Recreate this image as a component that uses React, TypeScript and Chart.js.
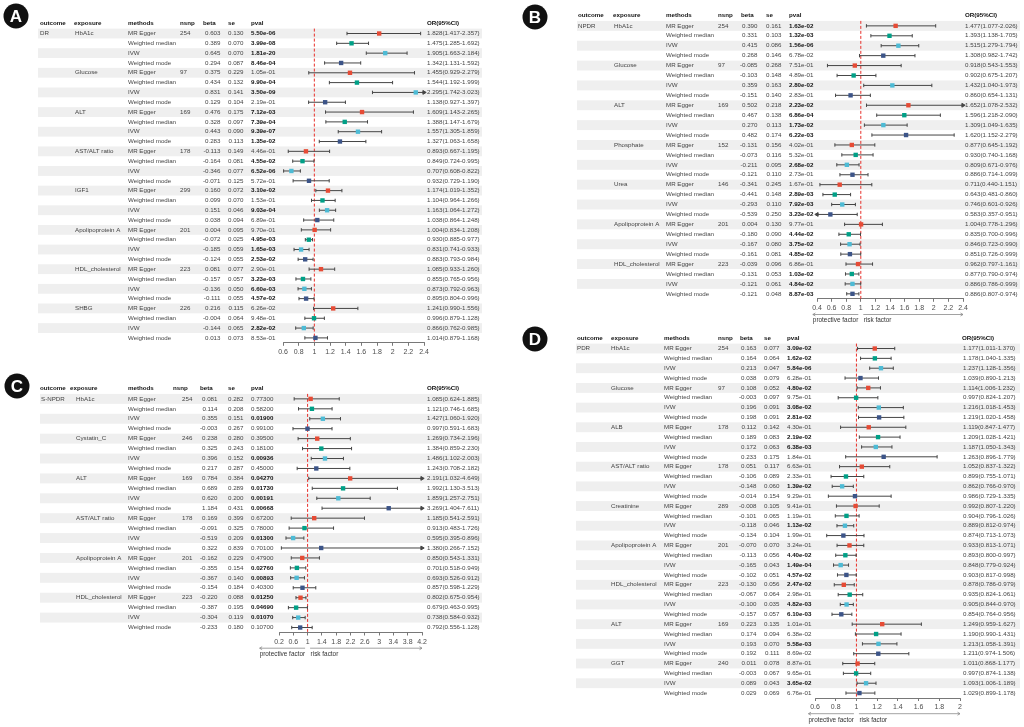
import React, { useEffect, useRef } from "react";
import { Chart, registerables } from "chart.js";
Chart.register(...registerables);

const FONT = '"Liberation Sans", Arial, Helvetica, sans-serif';
const METHODS = ["MR Egger", "Weighted median", "IVW", "Weighted mode"];
const METHOD_COLORS = ["#E64B35", "#00A087", "#4DBBD5", "#3C5488"];
const HEADERS = ["outcome", "exposure", "methods", "nsnp", "beta", "se", "pval", "OR(95%CI)"];

// ---------- Panel A : DR ----------
const A_OUTCOME = "DR";
const A_EXPOSURES = ["HbA1c", "Glucose", "ALT", "AST/ALT ratio", "IGF1", "Apolipoprotein A", "HDL_cholesterol", "SHBG"];
const A_NSNP = [254, 97, 169, 178, 299, 201, 223, 226];
const A_BETA = [0.603, 0.389, 0.645, 0.294, 0.375, 0.434, 0.831, 0.129, 0.476, 0.328, 0.443, 0.283, -0.113, -0.164, -0.346, -0.071, 0.160, 0.099, 0.151, 0.038, 0.004, -0.072, -0.185, -0.124, 0.081, -0.157, -0.136, -0.111, 0.216, -0.004, -0.144, 0.013];
const A_SE = [0.130, 0.070, 0.070, 0.087, 0.229, 0.132, 0.141, 0.104, 0.175, 0.097, 0.090, 0.113, 0.149, 0.081, 0.077, 0.125, 0.072, 0.070, 0.046, 0.094, 0.095, 0.025, 0.059, 0.055, 0.077, 0.057, 0.050, 0.055, 0.115, 0.064, 0.065, 0.073];
const A_PVAL = ["5.50e-06", "3.99e-08", "1.81e-20", "8.46e-04", "1.05e-01", "9.90e-04", "3.50e-09", "2.19e-01", "7.12e-03", "7.39e-04", "9.39e-07", "1.35e-02", "4.46e-01", "4.55e-02", "6.52e-06", "5.72e-01", "3.10e-02", "1.53e-01", "9.03e-04", "6.89e-01", "9.70e-01", "4.95e-03", "1.65e-03", "2.53e-02", "2.90e-01", "3.23e-03", "6.60e-03", "4.57e-02", "6.26e-02", "9.48e-01", "2.82e-02", "8.53e-01"];
const A_OR = [1.828, 1.475, 1.905, 1.342, 1.455, 1.544, 2.295, 1.138, 1.609, 1.388, 1.557, 1.327, 0.893, 0.849, 0.707, 0.932, 1.174, 1.104, 1.163, 1.038, 1.004, 0.930, 0.831, 0.883, 1.085, 0.855, 0.873, 0.895, 1.241, 0.996, 0.866, 1.014];
const A_LO = [1.417, 1.285, 1.663, 1.131, 0.929, 1.192, 1.742, 0.927, 1.143, 1.147, 1.305, 1.063, 0.667, 0.724, 0.608, 0.729, 1.019, 0.964, 1.064, 0.864, 0.834, 0.885, 0.741, 0.793, 0.933, 0.765, 0.792, 0.804, 0.990, 0.879, 0.762, 0.879];
const A_HI = [2.357, 1.692, 2.184, 1.592, 2.279, 1.999, 3.023, 1.397, 2.265, 1.679, 1.859, 1.658, 1.195, 0.995, 0.822, 1.190, 1.352, 1.266, 1.272, 1.248, 1.208, 0.977, 0.933, 0.984, 1.260, 0.956, 0.963, 0.996, 1.556, 1.128, 0.985, 1.168];
const A_TICKS = [0.6, 0.8, 1, 1.2, 1.4, 1.6, 1.8, 2, 2.2, 2.4];

// ---------- Panel B : NPDR ----------
const B_OUTCOME = "NPDR";
const B_EXPOSURES = ["HbA1c", "Glucose", "ALT", "Phosphate", "Urea", "Apolipoprotein A", "HDL_cholesterol"];
const B_NSNP = [254, 97, 169, 152, 146, 201, 223];
const B_BETA = [0.390, 0.331, 0.415, 0.268, -0.085, -0.103, 0.359, -0.151, 0.502, 0.467, 0.270, 0.482, -0.131, -0.073, -0.211, -0.121, -0.341, -0.441, -0.293, -0.539, 0.004, -0.180, -0.167, -0.161, -0.039, -0.131, -0.121, -0.121];
const B_SE = [0.161, 0.103, 0.086, 0.146, 0.268, 0.148, 0.163, 0.140, 0.218, 0.138, 0.113, 0.174, 0.156, 0.116, 0.095, 0.110, 0.245, 0.148, 0.110, 0.250, 0.130, 0.090, 0.080, 0.081, 0.096, 0.053, 0.061, 0.048];
const B_PVAL = ["1.63e-02", "1.32e-03", "1.56e-06", "6.78e-02", "7.51e-01", "4.89e-01", "2.80e-02", "2.83e-01", "2.23e-02", "6.86e-04", "1.73e-02", "6.22e-03", "4.02e-01", "5.32e-01", "2.68e-02", "2.73e-01", "1.67e-01", "2.89e-03", "7.92e-03", "3.23e-02", "9.77e-01", "4.44e-02", "3.75e-02", "4.85e-02", "6.86e-01", "1.03e-02", "4.84e-02", "8.87e-03"];
const B_OR = [1.477, 1.393, 1.515, 1.308, 0.918, 0.902, 1.432, 0.860, 1.652, 1.596, 1.309, 1.620, 0.877, 0.930, 0.809, 0.886, 0.711, 0.643, 0.746, 0.583, 1.004, 0.835, 0.846, 0.851, 0.962, 0.877, 0.886, 0.886];
const B_LO = [1.077, 1.138, 1.279, 0.982, 0.543, 0.675, 1.040, 0.654, 1.078, 1.218, 1.049, 1.152, 0.645, 0.740, 0.671, 0.714, 0.440, 0.481, 0.601, 0.357, 0.778, 0.700, 0.723, 0.726, 0.797, 0.790, 0.786, 0.807];
const B_HI = [2.026, 1.705, 1.794, 1.742, 1.553, 1.207, 1.973, 1.131, 2.532, 2.090, 1.635, 2.279, 1.192, 1.168, 0.976, 1.099, 1.151, 0.860, 0.926, 0.951, 1.296, 0.996, 0.990, 0.999, 1.161, 0.974, 0.999, 0.974];
const B_TICKS = [0.4, 0.6, 0.8, 1, 1.2, 1.4, 1.6, 1.8, 2, 2.2, 2.4];

// ---------- Panel C : S-NPDR ----------
const C_OUTCOME = "S-NPDR";
const C_EXPOSURES = ["HbA1c", "Cystatin_C", "ALT", "AST/ALT ratio", "Apolipoprotein A", "HDL_cholesterol"];
const C_NSNP = [254, 246, 169, 178, 201, 223];
const C_BETA = [0.081, 0.114, 0.355, -0.003, 0.238, 0.325, 0.396, 0.217, 0.784, 0.689, 0.620, 1.184, 0.169, -0.091, -0.519, 0.322, -0.162, -0.355, -0.367, -0.154, -0.220, -0.387, -0.304, -0.233];
const C_SE = [0.282, 0.208, 0.151, 0.267, 0.280, 0.243, 0.152, 0.287, 0.384, 0.289, 0.200, 0.431, 0.399, 0.325, 0.209, 0.839, 0.229, 0.154, 0.140, 0.184, 0.088, 0.195, 0.119, 0.180];
const C_PVAL = ["0.77300", "0.58200", "0.01900", "0.99100", "0.39500", "0.18100", "0.00936", "0.45000", "0.04270", "0.01730", "0.00191", "0.00668", "0.67200", "0.78000", "0.01300", "0.70100", "0.47900", "0.02760", "0.00893", "0.40300", "0.01250", "0.04690", "0.01070", "0.10700"];
const C_OR = [1.085, 1.121, 1.427, 0.997, 1.269, 1.384, 1.486, 1.243, 2.191, 1.992, 1.859, 3.269, 1.185, 0.913, 0.595, 1.380, 0.850, 0.701, 0.693, 0.857, 0.802, 0.679, 0.738, 0.792];
const C_LO = [0.624, 0.746, 1.060, 0.591, 0.734, 0.859, 1.102, 0.708, 1.032, 1.130, 1.257, 1.404, 0.541, 0.483, 0.395, 0.266, 0.543, 0.518, 0.526, 0.598, 0.675, 0.463, 0.584, 0.556];
const C_HI = [1.885, 1.685, 1.920, 1.683, 2.196, 2.230, 2.003, 2.182, 4.649, 3.513, 2.751, 7.611, 2.591, 1.726, 0.896, 7.152, 1.331, 0.949, 0.912, 1.229, 0.954, 0.995, 0.932, 1.128];
const C_TICKS = [0.2, 0.6, 1, 1.4, 1.8, 2.2, 2.6, 3, 3.4, 3.8, 4.2];

// ---------- Panel D : PDR ----------
const D_OUTCOME = "PDR";
const D_EXPOSURES = ["HbA1c", "Glucose", "ALB", "AST/ALT ratio", "Creatinine", "Apolipoprotein A", "HDL_cholesterol", "ALT", "GGT"];
const D_NSNP = [254, 97, 178, 178, 289, 201, 223, 169, 240];
const D_BETA = [0.163, 0.164, 0.213, 0.038, 0.108, -0.003, 0.196, 0.198, 0.112, 0.189, 0.172, 0.233, 0.051, -0.106, -0.148, -0.014, -0.008, -0.101, -0.118, -0.134, -0.070, -0.113, -0.165, -0.102, -0.130, -0.067, -0.100, -0.157, 0.223, 0.174, 0.193, 0.192, 0.011, -0.003, 0.089, 0.029];
const D_SE = [0.077, 0.064, 0.047, 0.079, 0.052, 0.097, 0.091, 0.091, 0.142, 0.083, 0.063, 0.175, 0.117, 0.089, 0.060, 0.154, 0.105, 0.065, 0.046, 0.104, 0.070, 0.056, 0.043, 0.051, 0.056, 0.064, 0.035, 0.057, 0.135, 0.094, 0.070, 0.111, 0.078, 0.067, 0.043, 0.069];
const D_PVAL = ["3.09e-02", "1.62e-02", "5.84e-06", "6.28e-01", "4.80e-02", "9.75e-01", "3.08e-02", "2.81e-02", "4.30e-01", "2.19e-02", "6.38e-03", "1.84e-01", "6.63e-01", "2.33e-01", "1.39e-02", "9.29e-01", "9.41e-01", "1.19e-01", "1.13e-02", "1.99e-01", "3.24e-01", "4.40e-02", "1.49e-04", "4.57e-02", "2.47e-02", "2.98e-01", "4.82e-03", "6.10e-03", "1.01e-01", "6.38e-02", "5.58e-03", "8.69e-02", "8.87e-01", "9.65e-01", "3.65e-02", "6.76e-01"];
const D_OR = [1.177, 1.178, 1.237, 1.039, 1.114, 0.997, 1.216, 1.219, 1.119, 1.209, 1.187, 1.263, 1.052, 0.899, 0.862, 0.986, 0.992, 0.904, 0.889, 0.874, 0.933, 0.893, 0.848, 0.903, 0.878, 0.935, 0.905, 0.854, 1.249, 1.190, 1.213, 1.211, 1.011, 0.997, 1.093, 1.029];
const D_LO = [1.011, 1.040, 1.128, 0.890, 1.006, 0.824, 1.018, 1.020, 0.847, 1.028, 1.050, 0.896, 0.837, 0.755, 0.766, 0.729, 0.807, 0.796, 0.812, 0.713, 0.813, 0.800, 0.779, 0.817, 0.786, 0.824, 0.844, 0.764, 0.959, 0.990, 1.058, 0.974, 0.868, 0.874, 1.006, 0.899];
const D_HI = [1.370, 1.335, 1.356, 1.213, 1.232, 1.207, 1.453, 1.458, 1.477, 1.421, 1.343, 1.779, 1.322, 1.071, 0.970, 1.335, 1.220, 1.026, 0.974, 1.073, 1.071, 0.997, 0.924, 0.998, 0.979, 1.061, 0.970, 0.956, 1.627, 1.431, 1.391, 1.506, 1.177, 1.138, 1.189, 1.178];
const D_TICKS = [0.6, 0.8, 1, 1.2, 1.4, 1.6, 1.8, 2];

// ---------- layout (absolute page coords) ----------
const AXIS_H = 14;
const PANELS = [
  {
    key: "A", label: "A", outcome: A_OUTCOME, exposures: A_EXPOSURES, nsnp: A_NSNP, beta: A_BETA, se: A_SE, pval: A_PVAL, or: A_OR, lo: A_LO, hi: A_HI, ticks: A_TICKS,
    box: { left: 0, top: 0, w: 505, h: 365 },
    area: { top: 28.6, bottom: 342.8, left: 283, right: 424 },
    cols: { outcome: [40, 40], exposure: [74, 75], methods: [128, 128], nsnp: [180, 180], beta: [203, 205], se: [228, 228], pval: [251, 251], or: [427, 427] },
    shade: [38, 482], badge: [16, 16], arrows: false,
  },
  {
    key: "B", label: "B", outcome: B_OUTCOME, exposures: B_EXPOSURES, nsnp: B_NSNP, beta: B_BETA, se: B_SE, pval: B_PVAL, or: B_OR, lo: B_LO, hi: B_HI, ticks: B_TICKS,
    box: { left: 510, top: 0, w: 514, h: 335 },
    area: { top: 20.9, bottom: 298.8, left: 817, right: 963 },
    cols: { outcome: [578, 578], exposure: [613, 614], methods: [666, 666], nsnp: [718, 718], beta: [741, 742], se: [766, 766], pval: [789, 789], or: [965, 965] },
    shade: [577, 1020], badge: [535, 17], arrows: true,
  },
  {
    key: "C", label: "C", outcome: C_OUTCOME, exposures: C_EXPOSURES, nsnp: C_NSNP, beta: C_BETA, se: C_SE, pval: C_PVAL, or: C_OR, lo: C_LO, hi: C_HI, ticks: C_TICKS,
    box: { left: 0, top: 365, w: 505, h: 362 },
    area: { top: 393.9, bottom: 632.5, left: 279, right: 422 },
    cols: { outcome: [40, 41], exposure: [70, 76], methods: [128, 128], nsnp: [173, 182], beta: [200, 202], se: [228, 228], pval: [251, 251], or: [427, 427] },
    shade: [40, 482], badge: [17, 386], arrows: true,
  },
  {
    key: "D", label: "D", outcome: D_OUTCOME, exposures: D_EXPOSURES, nsnp: D_NSNP, beta: D_BETA, se: D_SE, pval: D_PVAL, or: D_OR, lo: D_LO, hi: D_HI, ticks: D_TICKS,
    box: { left: 510, top: 320, w: 514, h: 407 },
    area: { top: 343.6, bottom: 698, left: 815, right: 960 },
    cols: { outcome: [577, 577], exposure: [611, 611], methods: [664, 664], nsnp: [718, 718], beta: [740, 741], se: [764, 764], pval: [787, 787], or: [962, 963] },
    shade: [576, 1020], badge: [535, 339], arrows: true,
  },
];

const fmtTick = (v: number) => String(+v.toFixed(1));

function buildConfig(p: any) {
  const n = p.beta.length;
  const xmin = p.ticks[0];
  const xmax = p.ticks[p.ticks.length - 1];
  const L = p.box.left, T = p.box.top;
  const rx = (x: number) => x - L;

  const pointSets = METHODS.map((m, mi) => ({
    type: "scatter",
    label: m,
    data: p.or.map((v: number, i: number) => ({ x: v, y: i })).filter((_: any, i: number) => i % 4 === mi),
    pointStyle: "rect",
    pointRadius: 3.1,
    pointBackgroundColor: METHOD_COLORS[mi],
    pointBorderColor: METHOD_COLORS[mi],
    pointBorderWidth: 0,
    clip: false,
    order: 0,
  }));

  const ciSets = p.or.map((_: number, i: number) => {
    const la = p.lo[i] < xmin;
    const ra = p.hi[i] > xmax;
    return {
      type: "line",
      data: [
        { x: Math.max(p.lo[i], xmin), y: i },
        { x: Math.min(p.hi[i], xmax), y: i },
      ],
      borderColor: "#454545",
      borderWidth: 1,
      fill: false,
      pointStyle: [la ? "triangle" : "line", ra ? "triangle" : "line"],
      rotation: [la ? -90 : 90, 90],
      pointRadius: [la ? 2.2 : 1.7, ra ? 2.2 : 1.7],
      pointBorderColor: "#454545",
      pointBackgroundColor: "#454545",
      pointBorderWidth: 1,
      clip: false,
      order: 1,
    };
  });

  const refSet = {
    type: "line",
    data: [
      { x: 1, y: -0.5 },
      { x: 1, y: n - 0.5 },
    ],
    borderColor: "#E8302A",
    borderWidth: 1,
    borderDash: [3, 2],
    pointRadius: 0,
    fill: false,
    clip: false,
    order: 2,
  };

  const plugin = {
    id: "forestTable" + p.key,
    beforeDraw(chart: any) {
      const ctx = chart.ctx;
      const y = chart.scales.y;
      ctx.save();
      ctx.fillStyle = "#efefef";
      for (let i = 0; i < n; i += 2) {
        const t = y.getPixelForValue(i - 0.5);
        const b = y.getPixelForValue(i + 0.5);
        ctx.fillRect(rx(p.shade[0]), t, p.shade[1] - p.shade[0], b - t);
      }
      ctx.restore();
    },
    afterDraw(chart: any) {
      const ctx = chart.ctx;
      const y = chart.scales.y;
      const x = chart.scales.x;
      const c = p.cols;
      ctx.save();
      ctx.textBaseline = "middle";
      // badge
      ctx.fillStyle = "#111";
      ctx.beginPath();
      ctx.arc(rx(p.badge[0]), p.badge[1] - T, 12.5, 0, Math.PI * 2);
      ctx.fill();
      ctx.fillStyle = "#fff";
      ctx.font = `bold 17px ${FONT}`;
      ctx.textAlign = "center";
      ctx.fillText(p.label, rx(p.badge[0]), p.badge[1] - T + 1);

      // header
      ctx.textAlign = "left";
      ctx.fillStyle = "#111";
      ctx.font = `bold 6.2px ${FONT}`;
      const hy = y.getPixelForValue(-1) - 0.5;
      const hx = [c.outcome[0], c.exposure[0], c.methods[0], c.nsnp[0], c.beta[0], c.se[0], c.pval[0], c.or[0]];
      HEADERS.forEach((h, k) => ctx.fillText(h, rx(hx[k]), hy));

      // rows
      const body = `6.2px ${FONT}`;
      ctx.font = body;
      const numW = ctx.measureText("0.000").width;
      for (let i = 0; i < n; i++) {
        const g = Math.floor(i / 4);
        const m = i % 4;
        const yy = y.getPixelForValue(i);
        ctx.font = body;
        ctx.fillStyle = "#444";
        ctx.textAlign = "left";
        if (i === 0) ctx.fillText(p.outcome, rx(c.outcome[1]), yy);
        if (m === 0) {
          ctx.fillText(p.exposures[g], rx(c.exposure[1]), yy);
          ctx.fillText(String(p.nsnp[g]), rx(c.nsnp[1]), yy);
        }
        ctx.fillText(METHODS[m], rx(c.methods[1]), yy);
        ctx.textAlign = "right";
        ctx.fillText(p.beta[i].toFixed(3), rx(c.beta[1]) + numW, yy);
        ctx.fillText(p.se[i].toFixed(3), rx(c.se[1]) + numW, yy);
        ctx.textAlign = "left";
        ctx.fillText(`${p.or[i].toFixed(3)}(${p.lo[i].toFixed(3)}-${p.hi[i].toFixed(3)})`, rx(c.or[1]), yy);
        const sig = parseFloat(p.pval[i]) < 0.05;
        if (sig) {
          ctx.font = `bold 6.2px ${FONT}`;
          ctx.fillStyle = "#111";
        }
        ctx.fillText(p.pval[i], rx(c.pval[1]), yy);
      }

      // protective / risk arrows
      if (p.arrows) {
        const area = chart.chartArea;
        const x1 = x.getPixelForValue(1);
        const ay = area.bottom + 15.7;
        const ty = area.bottom + 21.8;
        ctx.font = `6.4px ${FONT}`;
        const tw = ctx.measureText("protective factor").width;
        ctx.strokeStyle = "#8a8a8a";
        ctx.lineWidth = 0.8;
        const lx0 = x1 - 2.5 - tw, lx1 = x1 - 2.5;
        const r0 = x1 + 2.5, r1 = area.right;
        ctx.beginPath();
        ctx.moveTo(lx1, ay); ctx.lineTo(lx0, ay);
        ctx.moveTo(lx0 + 2.5, ay - 1.5); ctx.lineTo(lx0, ay); ctx.lineTo(lx0 + 2.5, ay + 1.5);
        ctx.moveTo(r0, ay); ctx.lineTo(r1, ay);
        ctx.moveTo(r1 - 2.5, ay - 1.5); ctx.lineTo(r1, ay); ctx.lineTo(r1 - 2.5, ay + 1.5);
        ctx.stroke();
        ctx.fillStyle = "#333";
        ctx.textAlign = "right";
        ctx.fillText("protective factor", lx1, ty);
        ctx.textAlign = "left";
        ctx.fillText("risk factor", x1 + 3, ty);
      }
      ctx.restore();
    },
  };

  return {
    type: "scatter",
    data: { datasets: [...pointSets, ...ciSets, refSet] },
    options: {
      animation: false,
      responsive: false,
      maintainAspectRatio: false,
      events: [],
      layout: {
        padding: {
          left: p.area.left - L,
          right: L + p.box.w - p.area.right,
          top: p.area.top - T,
          bottom: T + p.box.h - p.area.bottom - AXIS_H,
        },
      },
      plugins: { legend: { display: false }, tooltip: { enabled: false } },
      scales: {
        x: {
          type: "linear",
          position: "bottom",
          min: xmin,
          max: xmax,
          afterBuildTicks: (s: any) => {
            s.ticks = p.ticks.map((v: number) => ({ value: v }));
          },
          afterFit: (s: any) => {
            s.height = AXIS_H;
          },
          ticks: {
            callback: (v: any) => fmtTick(Number(v)),
            font: { size: 7, family: FONT },
            color: "#4d4d4d",
            padding: 2,
            maxRotation: 0,
            autoSkip: false,
          },
          grid: { drawOnChartArea: false, drawTicks: true, tickLength: 3, color: "#555", lineWidth: 0.8 },
          border: { display: true, color: "#555", width: 0.8 },
        },
        y: {
          type: "linear",
          display: false,
          min: -0.5,
          max: n - 0.5,
          reverse: true,
        },
      },
    },
    plugins: [plugin],
  };
}

function ForestPanel({ p }: { p: any }) {
  const ref = useRef<HTMLCanvasElement>(null);
  useEffect(() => {
    if (!ref.current) return;
    const chart = new Chart(ref.current, buildConfig(p) as any);
    return () => chart.destroy();
  }, [p]);
  return (
    <canvas
      ref={ref}
      width={p.box.w}
      height={p.box.h}
      style={{ position: "absolute", left: p.box.left, top: p.box.top, width: p.box.w, height: p.box.h }}
    />
  );
}

export default function App() {
  return (
    <div style={{ position: "absolute", left: 0, top: 0, width: 1024, height: 727, background: "#fff", overflow: "hidden" }}>
      {PANELS.map((p) => (
        <ForestPanel key={p.key} p={p} />
      ))}
    </div>
  );
}
